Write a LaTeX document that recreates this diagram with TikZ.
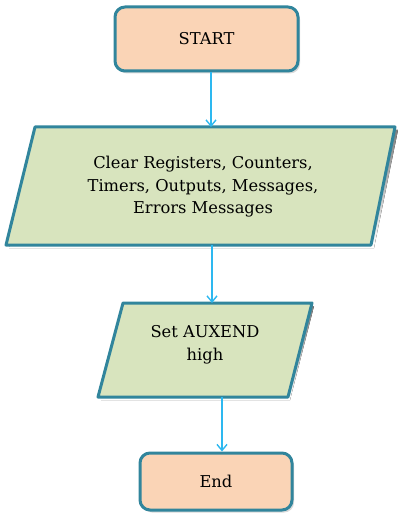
\documentclass[tikz,border=0pt]{standalone}
\usepackage{fontspec}
\setmainfont{DejaVu Serif}
\usetikzlibrary{arrows.meta,shadows}
\definecolor{peach}{HTML}{FAD4B6}
\definecolor{sage}{HTML}{D8E4BE}
\definecolor{tealb}{HTML}{31859C}
\definecolor{arrowb}{HTML}{2DB8F0}
\definecolor{shade}{HTML}{D0D0D0}
\tikzset{
  boxline/.style={draw=tealb, line width=3pt, line join=round},
  termbox/.style={boxline, fill=peach, rounded corners=10pt, inner sep=0pt,
    drop shadow={shadow xshift=2pt, shadow yshift=-2.5pt, fill=shade, opacity=0.8}},
  conn/.style={draw=arrowb, line width=1.6pt, -{Straight Barb[length=6pt,width=10pt,line width=1.4pt]}},
  lbl/.style={font=\fontsize{16.3}{22.5}\selectfont, text=black, align=center, inner sep=0pt},
}
\begin{document}
\begin{tikzpicture}[x=1pt,y=-1pt]
\useasboundingbox (0,0) rectangle (397,513);
% START
\node[termbox, lbl, minimum width=183pt, minimum height=64pt] (start) at (206.5,39) {\raisebox{-3pt}{START}};
% parallelogram 1
\fill[shade] (38,130) -- (398,130) -- (374,248) -- (9,248) -- cycle;
\draw[boxline, fill=sage] (35,127) -- (395,127) -- (371,245) -- (6,245) -- cycle;
\node[lbl] (clear) at (203,187) {Clear Registers, Counters,\\Timers, Outputs, Messages,\\Errors Messages};
\coordinate (p1t) at (211,127);
\coordinate (p1b) at (212,245);
% parallelogram 2
\fill[shade] (126,306) -- (314,306) -- (290,400) -- (101,400) -- cycle;
\draw[boxline, fill=sage] (123,303) -- (312,303) -- (288,397) -- (98,397) -- cycle;
\node[lbl] (aux) at (205,345) {Set AUXEND\\high};
\coordinate (p2t) at (212,303);
\coordinate (p2b) at (222,397);
% End
\node[termbox, lbl, minimum width=152pt, minimum height=57pt] (endn) at (216,481.5) {End};
% connectors
\draw[conn] (start.south -| p1t) -- (p1t);
\draw[conn] (p1b) -- (p2t);
\draw[conn] (p2b) -- (p2b |- endn.north);
\end{tikzpicture}
\end{document}
